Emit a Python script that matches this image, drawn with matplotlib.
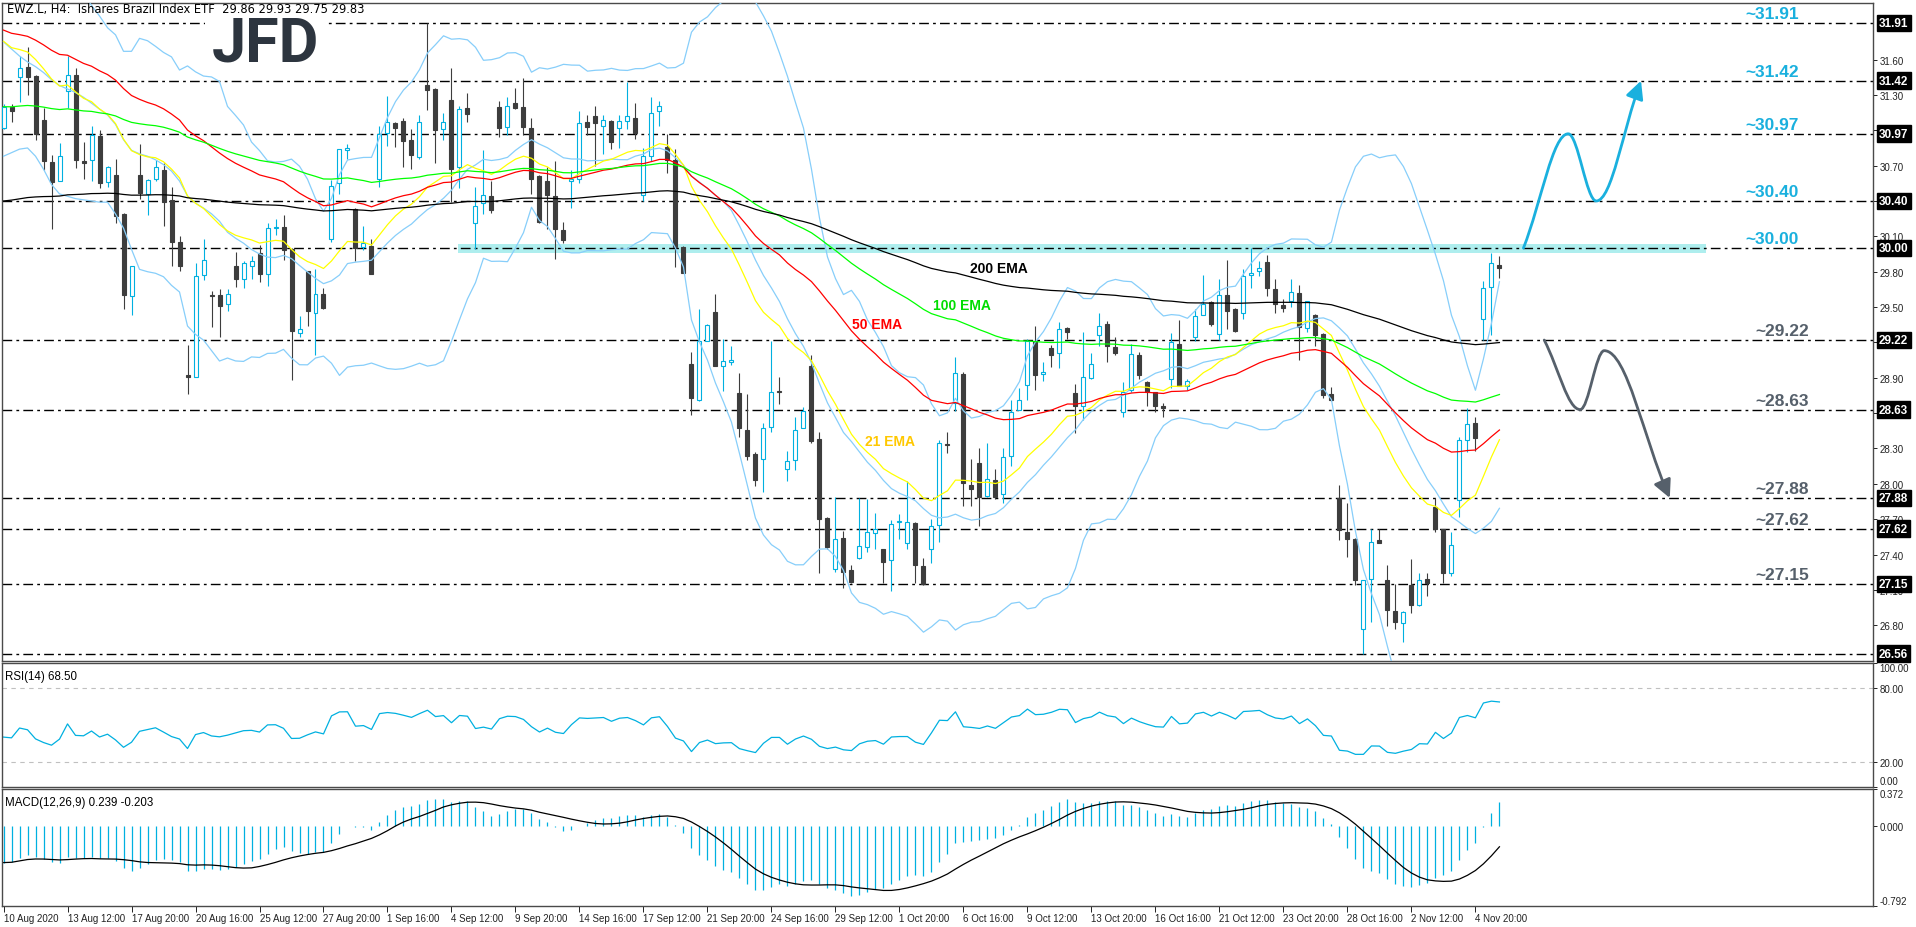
import matplotlib
matplotlib.use("Agg")
import matplotlib.pyplot as plt
import matplotlib.transforms as mtransforms
from matplotlib.path import Path
from matplotlib.patches import FancyArrowPatch, Rectangle
import numpy as np
import pandas as pd

W, H = 1916, 928

# EWZ.L H4 candles, 10 Aug 2020 - 5 Nov 2020
opens = [31.02, 31.20, 31.45, 31.54, 31.46, 31.09, 30.73, 30.57, 31.33, 31.47,
         30.74, 30.75, 30.95, 30.56, 30.62, 30.29, 29.59, 30.62, 30.46, 30.59,
         30.66, 30.41, 30.05, 28.92, 28.91, 29.77, 29.60, 29.60, 29.53, 29.85,
         29.74, 29.85, 29.96, 29.78, 30.17, 30.18, 29.99, 29.28, 29.81, 29.45,
         29.61, 30.08, 30.55, 30.83, 30.33, 30.01, 30.02, 30.59, 30.98, 31.06,
         31.08, 30.92, 30.77, 31.38, 31.35, 31.01, 31.26, 30.69, 31.19, 30.21,
         30.38, 30.44, 31.20, 31.03, 31.23, 31.20, 31.02, 30.61, 30.57, 30.44,
         30.15, 30.57, 30.59, 31.07, 31.12, 31.04, 31.08, 31.02, 31.08, 31.10,
         30.45, 30.78, 31.16, 30.86, 30.75, 30.01, 29.02, 28.71, 29.21, 29.46,
         29.00, 29.03, 28.77, 28.46, 28.25, 28.21, 28.48, 28.79, 28.13, 28.20,
         28.47, 29.00, 28.38, 27.71, 27.28, 27.54, 27.27, 27.37, 27.46, 27.58,
         27.45, 27.35, 27.68, 27.50, 27.67, 27.30, 27.45, 27.65, 28.34, 28.69,
         28.93, 27.99, 28.18, 27.90, 28.03, 27.91, 28.24, 28.63, 28.84, 29.21,
         28.93, 29.15, 29.11, 29.32, 28.77, 28.66, 28.90, 29.26, 29.36, 29.16,
         28.61, 28.80, 29.09, 28.86, 28.78, 28.66, 28.89, 29.19, 28.83, 29.25,
         29.43, 29.54, 29.27, 29.60, 29.48, 29.45, 29.77, 29.81, 29.88, 29.65,
         29.52, 29.55, 29.62, 29.32, 29.43, 29.27, 28.76, 27.88, 27.59, 27.53,
         26.77, 27.19, 27.52, 27.18, 26.92, 26.82, 27.14, 26.97, 27.19, 27.80,
         27.62, 27.24, 27.86, 28.37, 28.52, 29.40, 29.67, 29.86]
highs = [31.22, 31.22, 31.63, 31.71, 31.47, 31.19, 30.79, 30.89, 31.63, 31.53,
         30.90, 31.04, 31.00, 30.70, 30.76, 30.30, 29.85, 30.88, 30.59, 30.75,
         30.72, 30.52, 30.10, 29.18, 29.87, 30.08, 29.64, 29.65, 29.65, 29.97,
         29.89, 29.93, 30.03, 30.21, 30.25, 30.28, 30.00, 29.42, 29.81, 29.82,
         29.66, 30.58, 30.84, 30.88, 30.34, 30.19, 30.08, 31.04, 31.29, 31.07,
         31.10, 31.01, 31.13, 31.91, 31.36, 31.15, 31.53, 31.21, 31.32, 30.52,
         30.83, 30.57, 31.25, 31.28, 31.36, 31.44, 31.10, 30.62, 30.69, 30.74,
         30.22, 30.66, 31.16, 31.13, 31.21, 31.13, 31.09, 31.13, 31.41, 31.23,
         30.85, 31.28, 31.25, 30.97, 30.84, 30.02, 29.12, 29.48, 29.36, 29.61,
         29.23, 29.17, 28.94, 28.76, 28.27, 28.52, 29.21, 28.91, 28.28, 28.57,
         28.65, 29.09, 28.44, 27.72, 27.89, 27.60, 27.31, 27.88, 27.87, 27.75,
         27.45, 27.69, 27.74, 28.02, 27.68, 27.37, 27.70, 28.37, 28.44, 29.08,
         28.95, 28.21, 28.30, 28.35, 28.13, 28.30, 28.71, 28.81, 29.23, 29.34,
         29.03, 29.18, 29.37, 29.33, 28.85, 29.29, 29.11, 29.45, 29.38, 29.25,
         28.86, 29.19, 29.12, 28.87, 28.78, 28.69, 29.28, 29.39, 28.89, 29.48,
         29.77, 29.55, 29.74, 29.90, 29.49, 29.82, 30.00, 29.89, 29.94, 29.74,
         29.57, 29.74, 29.69, 29.55, 29.44, 29.28, 28.82, 27.99, 27.84, 27.54,
         27.18, 27.62, 27.62, 27.31, 27.15, 26.92, 27.36, 27.24, 27.24, 27.88,
         27.62, 27.59, 28.40, 28.64, 28.57, 29.72, 29.96, 29.93]
lows = [31.01, 31.07, 31.24, 31.30, 30.92, 30.66, 30.16, 30.57, 31.19, 30.68,
        30.59, 30.57, 30.51, 30.52, 30.21, 29.48, 29.43, 30.42, 30.28, 30.57,
        30.19, 29.85, 29.81, 28.76, 28.91, 29.73, 29.33, 29.25, 29.47, 29.67,
        29.66, 29.74, 29.71, 29.68, 30.11, 29.90, 28.88, 29.25, 29.34, 29.09,
        29.48, 30.05, 30.46, 30.76, 29.89, 29.98, 29.78, 30.52, 30.87, 30.86,
        30.69, 30.67, 30.76, 31.17, 30.72, 30.92, 30.39, 30.51, 31.07, 29.99,
        30.29, 30.30, 30.94, 30.96, 31.18, 30.96, 30.46, 30.21, 30.16, 29.91,
        30.04, 30.34, 30.55, 30.96, 30.70, 30.80, 30.84, 30.85, 31.01, 30.93,
        30.40, 30.74, 31.04, 30.64, 29.84, 29.79, 28.58, 28.70, 29.21, 29.00,
        28.79, 29.01, 28.40, 28.20, 27.98, 27.93, 28.44, 28.68, 28.02, 28.12,
        28.47, 28.35, 27.24, 27.45, 27.25, 27.12, 27.16, 27.36, 27.42, 27.45,
        27.16, 27.09, 27.53, 27.45, 27.16, 27.14, 27.33, 27.51, 28.26, 28.62,
        27.81, 27.81, 27.64, 27.89, 27.87, 27.84, 28.15, 28.63, 28.71, 28.80,
        28.87, 28.99, 28.98, 29.23, 28.43, 28.54, 28.89, 29.17, 29.03, 29.09,
        28.57, 28.78, 28.89, 28.66, 28.61, 28.57, 28.81, 28.83, 28.80, 29.21,
        29.43, 29.34, 29.22, 29.31, 29.29, 29.40, 29.66, 29.76, 29.59, 29.45,
        29.46, 29.50, 29.05, 29.29, 29.17, 28.73, 28.70, 27.52, 27.38, 27.14,
        26.56, 26.83, 27.50, 26.79, 26.77, 26.66, 26.90, 26.96, 27.05, 27.59,
        27.16, 27.22, 27.72, 28.27, 28.28, 29.22, 29.26, 29.75]
closes = [31.20, 31.16, 31.53, 31.45, 30.97, 30.74, 30.56, 30.78, 31.47, 30.75,
          30.72, 30.96, 30.55, 30.69, 30.27, 29.60, 29.85, 30.47, 30.58, 30.69,
          30.39, 30.05, 29.85, 28.91, 29.76, 29.90, 29.59, 29.51, 29.61, 29.74,
          29.87, 29.89, 29.78, 30.17, 30.18, 29.98, 29.30, 29.31, 29.47, 29.61,
          29.49, 30.53, 30.84, 30.85, 30.00, 30.04, 29.78, 30.97, 31.07, 31.02,
          30.91, 30.79, 31.07, 31.34, 31.00, 31.07, 30.67, 31.18, 31.14, 30.36,
          30.45, 30.32, 31.02, 31.21, 31.19, 31.03, 30.59, 30.22, 30.45, 30.16,
          30.07, 30.59, 31.06, 31.03, 31.06, 31.09, 30.90, 31.08, 31.12, 30.98,
          30.78, 31.15, 31.21, 30.75, 30.01, 29.79, 28.73, 29.21, 29.35, 29.00,
          29.04, 29.05, 28.47, 28.24, 28.03, 28.47, 28.78, 28.78, 28.19, 28.46,
          28.62, 28.36, 27.70, 27.46, 27.53, 27.25, 27.17, 27.47, 27.59, 27.62,
          27.34, 27.66, 27.68, 27.68, 27.31, 27.15, 27.64, 28.35, 28.33, 28.94,
          28.01, 27.96, 27.89, 28.04, 27.89, 28.23, 28.61, 28.71, 29.21, 28.92,
          28.95, 29.09, 29.31, 29.29, 28.66, 28.91, 29.02, 29.34, 29.17, 29.11,
          28.78, 29.10, 28.92, 28.78, 28.66, 28.64, 29.20, 28.83, 28.87, 29.42,
          29.53, 29.36, 29.60, 29.47, 29.30, 29.76, 29.79, 29.83, 29.66, 29.53,
          29.49, 29.63, 29.33, 29.55, 29.26, 28.75, 28.71, 27.61, 27.53, 27.18,
          27.18, 27.51, 27.50, 26.93, 26.83, 26.91, 26.97, 27.18, 27.16, 27.62,
          27.24, 27.48, 28.37, 28.51, 28.39, 29.66, 29.87, 29.83]

# indicator values at the first bar (history before the window is not visible)
ema_periods = [21, 50, 100, 200]
ema_start = [31.755, 31.85, 31.20, 30.40]
ema_colors = ["#ffff00", "#ff0000", "#00ff00", "#000000"]
bb_mid_head = [31.75, 31.69, 31.63, 31.58, 31.54, 31.49, 31.43, 31.38, 31.35, 31.32,
               31.28, 31.23, 31.18, 31.13, 31.05, 30.92, 30.83, 30.80, 30.78]
bb_low_head = [30.78, 30.81, 30.84, 30.85, 30.78, 30.67, 30.54, 30.46, 30.44, 30.42,
               30.41, 30.40, 30.39, 30.39, 30.29, 30.17, 29.99, 29.82, 29.80]
rsi_start_gain, rsi_start_loss = 0.08, 0.12
macd_fast_start, macd_slow_start = 31.42, 31.78

# indicator read-outs as printed in the pane titles
rsi_title = "RSI(14) 68.50"
macd_title = "MACD(12,26,9) 0.239 -0.203"

# horizontal levels
levels_up = [31.91, 31.42, 30.97, 30.40, 30.00]
levels_dn = [29.22, 28.63, 27.88, 27.62, 27.15]
level_last = 26.56

price_ticks = [31.60, 31.30, 31.00, 30.70, 30.40, 30.10, 29.80, 29.50, 29.20,
               28.90, 28.60, 28.30, 28.00, 27.70, 27.40, 27.10, 26.80]
date_labels = ["10 Aug 2020", "13 Aug 12:00", "17 Aug 20:00", "20 Aug 16:00", "25 Aug 12:00",
               "27 Aug 20:00", "1 Sep 16:00", "4 Sep 12:00", "9 Sep 20:00", "14 Sep 16:00",
               "17 Sep 12:00", "21 Sep 20:00", "24 Sep 16:00", "29 Sep 12:00", "1 Oct 20:00",
               "6 Oct 16:00", "9 Oct 12:00", "13 Oct 20:00", "16 Oct 16:00", "21 Oct 12:00",
               "23 Oct 20:00", "28 Oct 16:00", "2 Nov 12:00", "4 Nov 20:00"]
date_pos = list(range(0, 8 * len(date_labels), 8))

# scenario paths (bar index, price)
bull_path = [(190.0, 30.00), (195.6, 30.97), (199.1, 30.40), (204.7, 31.42)]
bear_path = [(192.6, 29.22), (197.1, 28.63), (200.1, 29.13), (208.3, 27.88)]

# ---------------------------------------------------------------- indicators
o, h, l, c = (np.array(v) for v in (opens, highs, lows, closes))
n = len(c)
idx = np.arange(n)


def ema(vals, period, start):
    out = np.empty(len(vals))
    out[0] = start
    a = 2.0 / (period + 1)
    for k in range(1, len(vals)):
        out[k] = out[k - 1] + a * (vals[k] - out[k - 1])
    return out


emas = [ema(c, p, s) for p, s in zip(ema_periods, ema_start)]

cs = pd.Series(c)
bb_mid = cs.rolling(20).mean().to_numpy()
bb_dev = 2 * cs.rolling(20).std(ddof=0).to_numpy()
bb_mid[:19] = bb_mid_head
bb_dev[:19] = np.array(bb_mid_head) - np.array(bb_low_head)
bb_up, bb_lo = bb_mid + bb_dev, bb_mid - bb_dev

diff = np.diff(c, prepend=c[0])
ag, al = rsi_start_gain, rsi_start_loss
rsi = np.empty(n)
for k in range(n):
    if k > 0:
        ag = (ag * 13 + max(diff[k], 0)) / 14
        al = (al * 13 + max(-diff[k], 0)) / 14
    rsi[k] = 100 - 100 / (1 + ag / al)

macd_main = ema(c, 12, macd_fast_start) - ema(c, 26, macd_slow_start)
macd_sig = pd.Series(macd_main).rolling(9, min_periods=1).mean().to_numpy()

# ---------------------------------------------------------------- layout
fig = plt.figure(figsize=(W / 100, H / 100), dpi=100)
plt.rcParams["font.family"] = ["Liberation Sans", "DejaVu Sans"]


def box(x0, y0, x1, y1):
    return [x0 / W, 1 - y1 / H, (x1 - x0) / W, (y1 - y0) / H]


ax = fig.add_axes(box(2, 4, 1873, 661.5))
ax_rsi = fig.add_axes(box(2, 664, 1873, 787.5))
ax_macd = fig.add_axes(box(2, 790, 1873, 907))

xmin, xmax = -0.19, 233.7
for a in (ax, ax_rsi, ax_macd):
    a.set_xlim(xmin, xmax)
    for s in a.spines.values():
        s.set_color("#4a4a4a")
        s.set_linewidth(1.0)
    a.yaxis.tick_right()
    a.tick_params(axis="y", direction="out", length=3, width=0.7, pad=1.5,
                  labelsize=7, colors="#222222")
    a.tick_params(axis="x", bottom=False, labelbottom=False)

all_levels = levels_up + levels_dn + [level_last]
ax.set_ylim(26.501, 32.08)
ax.set_yticks(price_ticks)
# price labels sitting right under a level box are hidden by it
ax.set_yticklabels(["" if min(abs(v - lv) for lv in all_levels) < 0.035 else f"{v:.2f}"
                    for v in price_ticks])

# highlighted resistance zone
ax.add_patch(Rectangle((56.8, 29.955), 212.8 - 56.8, 0.08, facecolor="#aeeeee",
                       edgecolor="none", zorder=1))

# dash-dot levels
for lv in all_levels:
    ax.axhline(lv, color="black", lw=1.0, dashes=(7, 3, 2, 3), zorder=2)

# candles
bull_col, bear_col = "#00b0e0", "#3d3d3d"
up = c >= o
ax.vlines(idx[up], l[up], h[up], color=bull_col, lw=0.8, zorder=3)
ax.vlines(idx[~up], l[~up], h[~up], color=bear_col, lw=0.8, zorder=3)
body_lo = np.minimum(o, c)
body_h = np.maximum(np.abs(c - o), 0.006)
ax.bar(idx[up], body_h[up], bottom=body_lo[up], width=0.5, facecolor="white",
       edgecolor=bull_col, linewidth=0.8, zorder=4)
ax.bar(idx[~up], body_h[~up], bottom=body_lo[~up], width=0.5, facecolor=bear_col,
       edgecolor=bear_col, linewidth=0.8, zorder=4)

# indicators on price
for line in (bb_up, bb_mid, bb_lo):
    ax.plot(idx, line, color="#87cefa", lw=0.9, zorder=5)
for e, col in zip(emas, ema_colors):
    ax.plot(idx, e, color=col, lw=0.9, zorder=5)

ema_lab = dict(fontsize=10, fontweight="bold", va="center", ha="left", zorder=6)
ax.text(120.8, 29.83, "200 EMA", color="black", **ema_lab)
ax.text(116.2, 29.52, "100 EMA", color="#00dd00", **ema_lab)
ax.text(106.1, 29.36, "50 EMA", color="#ff0000", **ema_lab)
ax.text(107.7, 28.36, "21 EMA", color="#ffc800", **ema_lab)

# level tags inside the chart
up_col, dn_col = "#1ab0de", "#56606b"
for lv in levels_up:
    ax.text(217.7, lv + 0.04, f"~{lv:.2f}", color=up_col, fontsize=12.5,
            fontweight="bold", va="baseline", ha="left", zorder=6)
for lv in levels_dn:
    ax.text(219.0, lv + 0.04, f"~{lv:.2f}", color=dn_col, fontsize=12.5,
            fontweight="bold", va="baseline", ha="left", zorder=6)

# level boxes on the price scale
trans = mtransforms.blended_transform_factory(ax.transAxes, ax.transData)
for lv in all_levels:
    ax.text(1 + 6 / 1871, lv, f"{lv:.2f}", transform=trans, color="white",
            fontsize=8.5, fontweight="bold", va="center", ha="left", zorder=10,
            clip_on=False,
            bbox=dict(boxstyle="square,pad=0.2", fc="black", ec="black"))


# scenario arrows
def wave(points):
    verts = [points[0]]
    last = len(points) - 1
    for k in range(last):
        (x0, y0), (x1, y1) = points[k], points[k + 1]
        dx = x1 - x0
        c1 = (x0 + 0.35 * dx, y0) if k > 0 else (x0 + 0.4 * dx, y0 + 0.4 * (y1 - y0))
        c2 = (x1 - 0.35 * dx, y1) if k + 1 < last else (x1 - 0.4 * dx, y1 - 0.4 * (y1 - y0))
        verts += [c1, c2, (x1, y1)]
    codes = [Path.MOVETO] + [Path.CURVE4] * (len(verts) - 1)
    return Path(verts, codes)


for pts, col in ((bull_path, up_col), (bear_path, dn_col)):
    ax.add_patch(FancyArrowPatch(path=wave(pts), arrowstyle="-|>,head_length=0.6,head_width=0.3",
                                 mutation_scale=18, color=col, lw=2.0, zorder=7,
                                 shrinkA=0, shrinkB=0))

# RSI pane
ax_rsi.set_ylim(0, 100)
for lv in (80, 20):
    ax_rsi.axhline(lv, color="#c0c0c0", lw=0.8, dashes=(4, 4))
ax_rsi.plot(idx, rsi, color=bull_col, lw=0.9)
ax_rsi.set_yticks([100, 80, 20, 0])
ax_rsi.set_yticklabels(["100.00", "80.00", "20.00", "0.00"])
rl = ax_rsi.get_yticklabels()
rl[0].set_va("top")
rl[3].set_va("bottom")
ax_rsi.text(0.0015, 0.94, rsi_title, transform=ax_rsi.transAxes,
            fontsize=8.3, va="top", ha="left")

# MACD pane
ax_macd.set_ylim(-0.792, 0.372)
ax_macd.vlines(idx, 0, macd_main, color=bull_col, lw=0.9)
ax_macd.plot(idx, macd_sig, color="black", lw=0.9)
ax_macd.set_yticks([0.372, 0.0, -0.792])
ax_macd.set_yticklabels(["0.372", "0.000", "-0.792"])
ml = ax_macd.get_yticklabels()
ml[0].set_va("top")
ml[2].set_va("bottom")
ax_macd.text(0.0015, 0.94, macd_title, transform=ax_macd.transAxes,
             fontsize=8.3, va="top", ha="left")

ax_macd.tick_params(axis="x", bottom=True, labelbottom=True, direction="out",
                    length=4, width=0.7, pad=1, labelsize=7, colors="#222222")
ax_macd.set_xticks(date_pos)
ax_macd.set_xticklabels(date_labels, ha="left")

# header and logo
fig.text(7 / W, 1 - 10 / H, f"EWZ.L, H4:  Ishares Brazil Index ETF  {opens[-1]:.2f} "
         f"{highs[-1]:.2f} {lows[-1]:.2f} {closes[-1]:.2f}", fontsize=8.3, va="center",
         ha="left", family="DejaVu Sans")
fig.patches.append(Rectangle((205 / W, 1 - 72 / H), 123 / W, 52 / H,
                             transform=fig.transFigure, fc="white", ec="none", zorder=1))
fig.text(265 / W, 1 - 45 / H, "JFD", fontsize=44, fontweight="bold", color="#2d353f",
         family="Roboto", ha="center", va="center", zorder=2)

fig.savefig("out.png", dpi=100, facecolor="white")
